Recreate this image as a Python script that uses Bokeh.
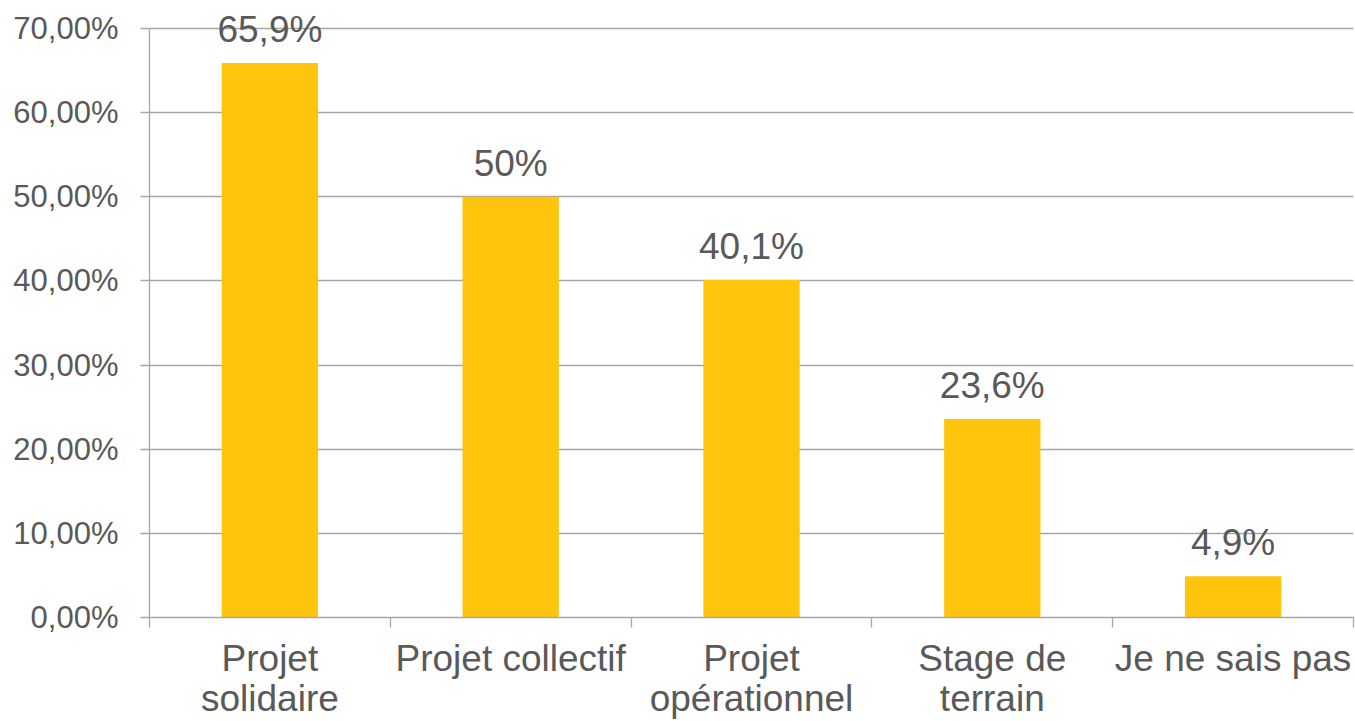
from bokeh.plotting import figure
from bokeh.models import FixedTicker, Range1d
from bokeh.core.properties import value
from bokeh.embed import file_html
from bokeh.resources import INLINE

categories = ["Projet\nsolidaire", "Projet collectif", "Projet\nopérationnel", "Stage de\nterrain", "Je ne sais pas"]
values = [65.9, 50.0, 40.1, 23.6, 4.9]
value_labels = ["65,9%", "50%", "40,1%", "23,6%", "4,9%"]
y_ticks = [0, 10, 20, 30, 40, 50, 60, 70]
y_tick_labels = ["0,00%", "10,00%", "20,00%", "30,00%", "40,00%", "50,00%", "60,00%", "70,00%"]

FONT = "Liberation Sans"
TXT = "#595959"
GRID = "#A6A6A6"
BAR = "#FFC50D"

xs = [i + 0.5 for i in range(len(categories))]
bounds_x = list(range(len(categories) + 1))

p = figure(width=1355, height=721, x_range=Range1d(0, len(categories)), y_range=Range1d(0, 73.33),
           output_backend="svg", toolbar_location=None,
           min_border_left=149, min_border_right=2, min_border_top=0, min_border_bottom=104)
p.outline_line_color = None
p.background_fill_color = "white"

p.vbar(x=xs, top=values, width=0.4, fill_color=BAR, line_color=None)
p.text(x=xs, y=values, text=value_labels, text_align="center", text_baseline="bottom", y_offset=-13,
       text_font=value(FONT), text_font_size="37px", text_color=TXT)

p.xgrid.grid_line_color = None
p.ygrid.ticker = FixedTicker(ticks=y_ticks)
p.ygrid.grid_line_color = GRID
p.ygrid.grid_line_width = 1.3

ya = p.yaxis[0]
ya.ticker = FixedTicker(ticks=y_ticks)
ya.major_label_overrides = {t: l for t, l in zip(y_ticks, y_tick_labels)}
ya.bounds = (0, 70)
ya.axis_line_color = GRID
ya.axis_line_width = 1.3
ya.major_tick_line_color = GRID
ya.major_tick_line_width = 1.3
ya.major_tick_out = 9
ya.major_tick_in = 0
ya.minor_tick_line_color = None
ya.major_label_standoff = 22
ya.major_label_text_font = FONT
ya.major_label_text_font_size = "31px"
ya.major_label_text_color = TXT

xa = p.xaxis[0]
xa.ticker = FixedTicker(ticks=xs, minor_ticks=bounds_x)
xa.major_label_overrides = {x: c for x, c in zip(xs, categories)}
xa.axis_line_color = GRID
xa.axis_line_width = 1.3
xa.major_tick_line_color = None
xa.major_tick_out = 0
xa.major_tick_in = 0
xa.minor_tick_line_color = GRID
xa.minor_tick_line_width = 1.3
xa.minor_tick_out = 10
xa.minor_tick_in = 0
xa.major_label_standoff = 10
xa.major_label_text_font = FONT
xa.major_label_text_font_size = "37px"
xa.major_label_text_color = TXT
xa.major_label_text_line_height = 0.98

open("out.html", "w").write(file_html(p, INLINE))
